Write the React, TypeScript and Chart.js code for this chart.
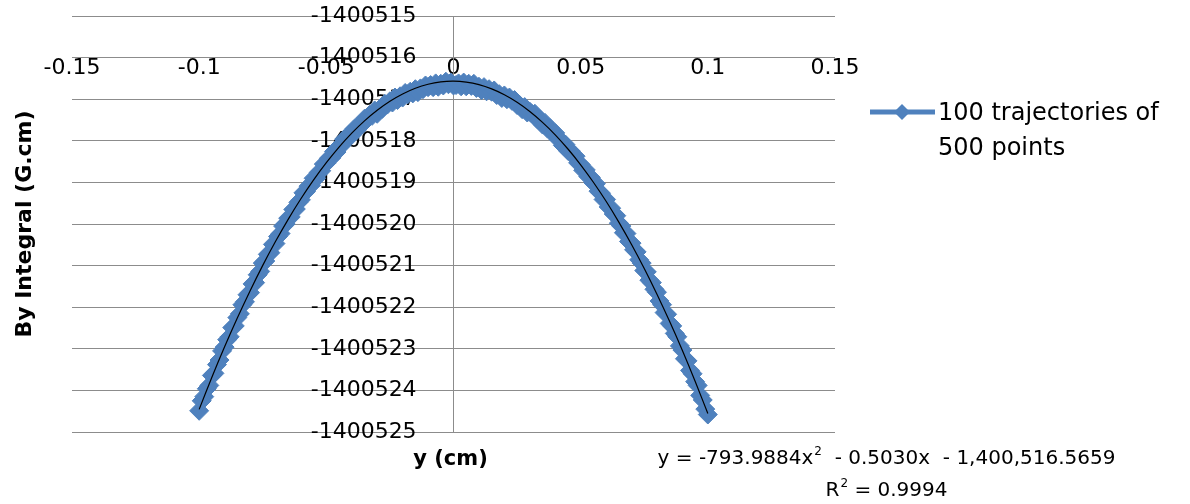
import React, { useEffect, useRef } from 'react';
import { Chart, registerables } from 'chart.js';

Chart.register(...registerables);

// ---- data ----
const seriesLabel = ['100 trajectories of', '500 points'];
const xTitle = 'y (cm)';
const yTitle = 'By Integral (G.cm)';
const equationMain = 'y = -793.9884x';
const equationRest = '  - 0.5030x  - 1,400,516.5659';
const rSquaredText = ' = 0.9994';

const xRange = [-0.15, 0.15];
const xStep = 0.05;
const yRange = [-1400525, -1400515];
const yStep = 1;
const xAxisCrossing = -1400516;
const yAxisCrossing = 0;

const xValues = [
  -0.1, -0.099, -0.098, -0.097, -0.096, -0.095, -0.094, -0.093, -0.092, -0.091,
  -0.09, -0.089, -0.088, -0.087, -0.086, -0.085, -0.084, -0.083, -0.082, -0.081,
  -0.08, -0.079, -0.078, -0.077, -0.076, -0.075, -0.074, -0.073, -0.072, -0.071,
  -0.07, -0.069, -0.068, -0.067, -0.066, -0.065, -0.064, -0.063, -0.062, -0.061,
  -0.06, -0.059, -0.058, -0.057, -0.056, -0.055, -0.054, -0.053, -0.052, -0.051,
  -0.05, -0.049, -0.048, -0.047, -0.046, -0.045, -0.044, -0.043, -0.042, -0.041,
  -0.04, -0.039, -0.038, -0.037, -0.036, -0.035, -0.034, -0.033, -0.032, -0.031,
  -0.03, -0.029, -0.028, -0.027, -0.026, -0.025, -0.024, -0.023, -0.022, -0.021,
  -0.02, -0.019, -0.018, -0.017, -0.016, -0.015, -0.014, -0.013, -0.012, -0.011,
  -0.01, -0.009, -0.008, -0.007, -0.006, -0.005, -0.004, -0.003, -0.002, -0.001,
  0,
  0.001, 0.002, 0.003, 0.004, 0.005, 0.006, 0.007, 0.008, 0.009, 0.01,
  0.011, 0.012, 0.013, 0.014, 0.015, 0.016, 0.017, 0.018, 0.019, 0.02,
  0.021, 0.022, 0.023, 0.024, 0.025, 0.026, 0.027, 0.028, 0.029, 0.03,
  0.031, 0.032, 0.033, 0.034, 0.035, 0.036, 0.037, 0.038, 0.039, 0.04,
  0.041, 0.042, 0.043, 0.044, 0.045, 0.046, 0.047, 0.048, 0.049, 0.05,
  0.051, 0.052, 0.053, 0.054, 0.055, 0.056, 0.057, 0.058, 0.059, 0.06,
  0.061, 0.062, 0.063, 0.064, 0.065, 0.066, 0.067, 0.068, 0.069, 0.07,
  0.071, 0.072, 0.073, 0.074, 0.075, 0.076, 0.077, 0.078, 0.079, 0.08,
  0.081, 0.082, 0.083, 0.084, 0.085, 0.086, 0.087, 0.088, 0.089, 0.09,
  0.091, 0.092, 0.093, 0.094, 0.095, 0.096, 0.097, 0.098, 0.099, 0.1,
];

const seriesValues = [
  -1400524.49, -1400524.25, -1400524.15, -1400523.96, -1400523.88, -1400523.64, -1400523.59, -1400523.38, -1400523.27, -1400523.05,
  -1400522.96, -1400522.78, -1400522.71, -1400522.49, -1400522.45, -1400522.25, -1400522.16, -1400521.94, -1400521.87, -1400521.70,
  -1400521.65, -1400521.44, -1400521.41, -1400521.22, -1400521.14, -1400520.94, -1400520.89, -1400520.73, -1400520.69, -1400520.49,
  -1400520.47, -1400520.30, -1400520.23, -1400520.05, -1400520.00, -1400519.86, -1400519.83, -1400519.65, -1400519.64, -1400519.48,
  -1400519.42, -1400519.25, -1400519.22, -1400519.09, -1400519.07, -1400518.90, -1400518.90, -1400518.76, -1400518.72, -1400518.56,
  -1400518.54, -1400518.42, -1400518.41, -1400518.26, -1400518.27, -1400518.14, -1400518.11, -1400517.96, -1400517.96, -1400517.85,
  -1400517.86, -1400517.71, -1400517.74, -1400517.62, -1400517.61, -1400517.47, -1400517.48, -1400517.38, -1400517.40, -1400517.27,
  -1400517.35, -1400517.24, -1400517.23, -1400517.11, -1400517.13, -1400517.05, -1400517.08, -1400516.96, -1400517.02, -1400516.93,
  -1400516.96, -1400516.85, -1400516.88, -1400516.82, -1400516.86, -1400516.76, -1400516.83, -1400516.74, -1400516.76, -1400516.67,
  -1400516.71, -1400516.66, -1400516.71, -1400516.62, -1400516.70, -1400516.63, -1400516.67, -1400516.58, -1400516.64, -1400516.60,
  -1400516.67,
  -1400516.66, -1400516.62, -1400516.69, -1400516.60, -1400516.69, -1400516.63, -1400516.68, -1400516.63, -1400516.73, -1400516.70,
  -1400516.78, -1400516.71, -1400516.81, -1400516.76, -1400516.82, -1400516.79, -1400516.90, -1400516.88, -1400516.97, -1400516.91,
  -1400517.00, -1400516.96, -1400517.04, -1400517.02, -1400517.14, -1400517.14, -1400517.24, -1400517.19, -1400517.32, -1400517.30,
  -1400517.36, -1400517.35, -1400517.48, -1400517.49, -1400517.61, -1400517.57, -1400517.71, -1400517.70, -1400517.80, -1400517.81,
  -1400517.95, -1400517.98, -1400518.11, -1400518.09, -1400518.24, -1400518.24, -1400518.35, -1400518.37, -1400518.53, -1400518.57,
  -1400518.71, -1400518.70, -1400518.86, -1400518.88, -1400519.01, -1400519.03, -1400519.21, -1400519.26, -1400519.41, -1400519.41,
  -1400519.59, -1400519.62, -1400519.76, -1400519.80, -1400519.98, -1400520.05, -1400520.21, -1400520.23, -1400520.42, -1400520.46,
  -1400520.62, -1400520.67, -1400520.86, -1400520.94, -1400521.12, -1400521.15, -1400521.35, -1400521.41, -1400521.57, -1400521.64,
  -1400521.85, -1400521.94, -1400522.13, -1400522.17, -1400522.39, -1400522.45, -1400522.63, -1400522.71, -1400522.93, -1400523.03,
  -1400523.24, -1400523.29, -1400523.52, -1400523.60, -1400523.79, -1400523.88, -1400524.12, -1400524.23, -1400524.45, -1400524.58,
];

const trendX = [
  -0.1, -0.095, -0.09, -0.085, -0.08, -0.075, -0.07, -0.065, -0.06, -0.055,
  -0.05, -0.045, -0.04, -0.035, -0.03, -0.025, -0.02, -0.015, -0.01, -0.005,
  0,
  0.005, 0.01, 0.015, 0.02, 0.025, 0.03, 0.035, 0.04, 0.045, 0.05,
  0.055, 0.06, 0.065, 0.07, 0.075, 0.08, 0.085, 0.09, 0.095, 0.1,
];

const trendValues = [
  -1400524.456, -1400523.684, -1400522.952, -1400522.260, -1400521.608, -1400520.994, -1400520.422, -1400519.888, -1400519.394, -1400518.940,
  -1400518.526, -1400518.151, -1400517.816, -1400517.521, -1400517.266, -1400517.049, -1400516.874, -1400516.737, -1400516.640, -1400516.583,
  -1400516.566,
  -1400516.589, -1400516.650, -1400516.753, -1400516.894, -1400517.075, -1400517.296, -1400517.557, -1400517.856, -1400518.197, -1400518.576,
  -1400518.996, -1400519.454, -1400519.954, -1400520.492, -1400521.070, -1400521.688, -1400522.346, -1400523.042, -1400523.780, -1400524.556,
];

const SERIES_COLOR = '#4F81BD';
const GRID_COLOR = '#8c8c8c';
const FONT = '"DejaVu Sans", sans-serif';

const textPlugin = {
  id: 'excelTexts',
  afterDraw(chart: any) {
    const ctx: CanvasRenderingContext2D = chart.ctx;
    const area = chart.chartArea;
    ctx.save();
    ctx.fillStyle = '#000';

    // Y axis title
    ctx.save();
    ctx.font = `bold 22px ${FONT}`;
    ctx.textAlign = 'center';
    ctx.textBaseline = 'middle';
    ctx.translate(25, (area.top + area.bottom) / 2);
    ctx.rotate(-Math.PI / 2);
    ctx.fillText(yTitle, 0, 0);
    ctx.restore();

    // X axis title
    ctx.font = `bold 21px ${FONT}`;
    ctx.textAlign = 'center';
    ctx.textBaseline = 'middle';
    ctx.fillText(xTitle, (area.left + area.right) / 2 - 3, area.bottom + 28);

    // Legend
    const ly = 112;
    ctx.strokeStyle = SERIES_COLOR;
    ctx.lineWidth = 5;
    ctx.beginPath();
    ctx.moveTo(870, ly);
    ctx.lineTo(935, ly);
    ctx.stroke();
    ctx.fillStyle = SERIES_COLOR;
    ctx.beginPath();
    ctx.moveTo(902, ly - 8);
    ctx.lineTo(910, ly);
    ctx.lineTo(902, ly + 8);
    ctx.lineTo(894, ly);
    ctx.closePath();
    ctx.fill();
    ctx.fillStyle = '#000';
    ctx.font = `24px ${FONT}`;
    ctx.textAlign = 'left';
    ctx.textBaseline = 'middle';
    seriesLabel.forEach((t, i) => ctx.fillText(t, 938, 114 + i * 35));

    // Trendline equation
    const cx = 886;
    const big = `20px ${FONT}`;
    const sup = `12px ${FONT}`;
    ctx.textAlign = 'left';
    ctx.textBaseline = 'middle';
    ctx.font = big;
    const w1 = ctx.measureText(equationMain).width;
    const w3 = ctx.measureText(equationRest).width;
    ctx.font = sup;
    const w2 = ctx.measureText('2').width;
    const x0 = cx - (w1 + w2 + w3) / 2;
    const y1 = 459;
    ctx.font = big;
    ctx.fillText(equationMain, x0, y1);
    ctx.font = sup;
    ctx.fillText('2', x0 + w1 + 1, y1 - 7);
    ctx.font = big;
    ctx.fillText(equationRest, x0 + w1 + w2 + 1, y1);

    const rw1 = ctx.measureText('R').width;
    const rw3 = ctx.measureText(rSquaredText).width;
    const rx = cx - (rw1 + w2 + rw3) / 2;
    const y2 = 491;
    ctx.fillText('R', rx, y2);
    ctx.font = sup;
    ctx.fillText('2', rx + rw1 + 1, y2 - 7);
    ctx.font = big;
    ctx.fillText(rSquaredText, rx + rw1 + w2 + 1, y2);

    ctx.restore();
  },
};

export default function App() {
  const canvasRef = useRef<HTMLCanvasElement | null>(null);

  useEffect(() => {
    const canvas = canvasRef.current;
    if (!canvas) return;
    const chart = new Chart(canvas, {
      type: 'scatter',
      data: {
        datasets: [
          {
            label: 'Poly. trendline',
            data: trendX.map((x, i) => ({ x, y: trendValues[i] })),
            showLine: true,
            borderColor: '#000',
            borderWidth: 1.2,
            pointRadius: 0,
            tension: 0.3,
            yAxisID: 'y',
          },
          {
            label: seriesLabel.join(' '),
            data: xValues.map((x, i) => ({ x, y: seriesValues[i] })),
            showLine: true,
            borderColor: SERIES_COLOR,
            borderWidth: 5,
            pointStyle: 'rectRot',
            pointRadius: 9.5,
            pointBackgroundColor: SERIES_COLOR,
            pointBorderColor: SERIES_COLOR,
            pointBorderWidth: 1,
            yAxisID: 'y',
          },
        ],
      },
      options: {
        animation: false,
        responsive: false,
        events: [],
        layout: { padding: { left: 72, right: 355, top: 16, bottom: 72 } },
        plugins: {
          legend: { display: false },
          tooltip: { enabled: false },
        },
        scales: {
          x: {
            type: 'linear',
            position: { y: xAxisCrossing },
            min: xRange[0],
            max: xRange[1],
            z: 1,
            grid: { display: false, drawTicks: false },
            border: { display: false },
            ticks: {
              stepSize: xStep,
              padding: -3,
              color: '#000',
              font: { family: FONT, size: 22 },
              maxRotation: 0,
              callback: (v: any) => String(Math.round(Number(v) * 100) / 100),
            },
          },
          y: {
            type: 'linear',
            position: { x: yAxisCrossing },
            min: yRange[0],
            max: yRange[1],
            grid: { color: GRID_COLOR, lineWidth: 1, drawTicks: false },
            border: { display: true, color: GRID_COLOR, width: 1 },
            ticks: { display: false, stepSize: yStep },
          },
          yLabels: {
            type: 'linear',
            axis: 'y',
            position: { x: -0.0145 },
            min: yRange[0],
            max: yRange[1],
            z: 1,
            grid: { display: false, drawTicks: false },
            border: { display: false },
            ticks: {
              stepSize: yStep,
              padding: 0,
              color: '#000',
              font: { family: FONT, size: 22 },
              callback: (v: any) => String(Math.round(Number(v))),
            },
          },
        },
      },
      plugins: [textPlugin],
    } as any);
    return () => chart.destroy();
  }, []);

  return (
    <div style={{ position: 'absolute', left: 0, top: 0, width: 1190, height: 504, background: '#fff' }}>
      <canvas ref={canvasRef} width={1190} height={504} style={{ display: 'block' }} />
    </div>
  );
}
